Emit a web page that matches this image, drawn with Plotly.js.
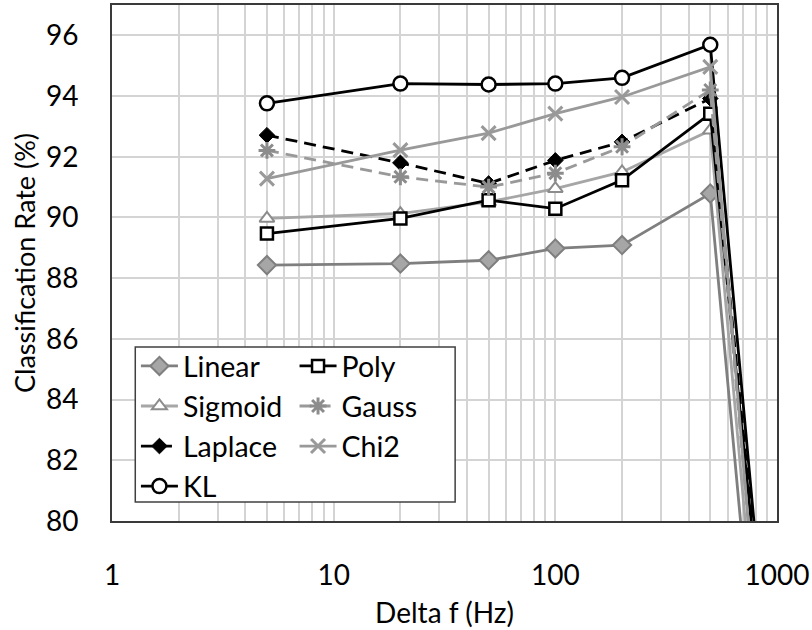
<!DOCTYPE html>
<html>
<head>
<meta charset="utf-8">
<script src="https://cdn.plot.ly/plotly-3.0.1.min.js"></script>
<style>html,body{margin:0;padding:0;background:#fff;}#chart{width:812px;height:630px;}</style>
</head>
<body>
<div id="chart"></div>
<script>
// Delta f (Hz)
const freqs = [5, 20, 50, 100, 200, 500, 1000];
// Classification rate (%)
const linear  = [88.43, 88.48, 88.59, 88.98, 89.09, 90.79, 67.0];
const poly    = [89.47, 89.97, 90.57, 90.29, 91.23, 93.42, 71.5];
const sigmoid = [89.97, 90.13, 90.51, 90.95, 91.50, 92.87, 68.3];
const gauss   = [92.21, 91.34, 91.00, 91.46, 92.33, 94.20, 69.2];
const laplace = [92.71, 91.80, 91.12, 91.88, 92.49, 93.92, 71.7];
const chi2    = [91.28, 92.22, 92.78, 93.42, 93.97, 94.96, 68.6];
const kl      = [93.76, 94.41, 94.38, 94.41, 94.60, 95.69, 71.7];

const xTickVals = [1, 10, 100, 1000];
const xTickText = ['1', '10', '100', '1000'];
const yTickVals = [80, 82, 84, 86, 88, 90, 92, 94, 96];

const FONT = 'Lato, "Open Sans", sans-serif';
const LW = 2.8;

function tr(name, y, lineColor, dash, symbol, mColor, mLine, size, mLineW, legend) {
  return {
    type: 'scatter', mode: 'lines+markers', name: name, x: freqs, y: y,
    line: {color: lineColor, width: LW, dash: dash},
    marker: {symbol: symbol, size: size, color: mColor, line: {color: mLine, width: mLineW}},
    legend: legend, cliponaxis: true
  };
}

const data = [
  tr('Linear',  linear,  '#7f7f7f', 'solid', 'diamond',        '#a6a6a6', '#7f7f7f', 14, 2, 'legend'),
  tr('Sigmoid', sigmoid, '#a6a6a6', 'solid', 'triangle-up',    '#ffffff', '#8c8c8c', 13, 2, 'legend'),
  tr('Laplace', laplace, '#000000', '12px,7px', 'diamond',     '#000000', '#000000', 12, 1, 'legend'),
  tr('KL',      kl,      '#000000', 'solid', 'circle',         '#ffffff', '#000000', 14, 2.5, 'legend'),
  tr('Poly',    poly,    '#000000', 'solid', 'square',         '#ffffff', '#000000', 12, 2.5, 'legend2'),
  tr('Gauss',   gauss,   '#999999', '12px,7px', 'asterisk-open', '#8c8c8c', '#8c8c8c', 14, 3, 'legend2'),
  tr('Chi2',    chi2,    '#999999', 'solid', 'x-thin-open',    '#999999', '#999999', 14, 3, 'legend2')
];

const legendCommon = {
  bgcolor: 'rgba(0,0,0,0)', borderwidth: 0,
  font: {family: FONT, size: 28.5, color: '#000'},
  orientation: 'v', xanchor: 'left', yanchor: 'top',
  tracegroupgap: 0, itemwidth: 37
};

const layout = {
  width: 812, height: 630,
  margin: {l: 112, r: 35, t: 5, b: 109},
  paper_bgcolor: '#ffffff', plot_bgcolor: '#ffffff',
  font: {family: FONT, size: 28, color: '#000'},
  showlegend: true,
  legend: Object.assign({}, legendCommon, {x: 0.036, y: 0.349}),
  legend2: Object.assign({}, legendCommon, {x: 0.2745, y: 0.349}),
  xaxis: {
    type: 'log', range: [0, 3],
    tickmode: 'array', tickvals: xTickVals, ticktext: xTickText,
    ticks: '', ticklabelstandoff: 28,
    tickfont: {family: FONT, size: 28, color: '#000'},
    showgrid: true, gridcolor: '#d4d4d4', gridwidth: 2,
    minor: {dtick: 'D1', showgrid: true, gridcolor: '#d4d4d4', gridwidth: 2, ticks: ''},
    showline: true, linecolor: '#3a3a3a', linewidth: 2, mirror: true,
    zeroline: false,
    title: {text: 'Delta f (Hz)', font: {family: FONT, size: 28, color: '#000'}, standoff: 14}
  },
  yaxis: {
    range: [80, 97],
    tickmode: 'array', tickvals: yTickVals,
    ticks: '', ticklabelstandoff: 26,
    tickfont: {family: FONT, size: 28, color: '#000'},
    showgrid: true, gridcolor: '#d4d4d4', gridwidth: 2,
    showline: true, linecolor: '#3a3a3a', linewidth: 2, mirror: true,
    zeroline: false,
    title: {text: 'Classification Rate (%)', font: {family: FONT, size: 27, color: '#000'}, standoff: 2}
  },
  shapes: [{
    type: 'rect', xref: 'paper', yref: 'paper', layer: 'above',
    x0: 0.035, x1: 0.516, y0: 0.037, y1: 0.337,
    fillcolor: '#ffffff', line: {color: '#404040', width: 1.5}
  }]
};

Plotly.newPlot('chart', data, layout, {displayModeBar: false, staticPlot: true});
</script>
</body>
</html>
